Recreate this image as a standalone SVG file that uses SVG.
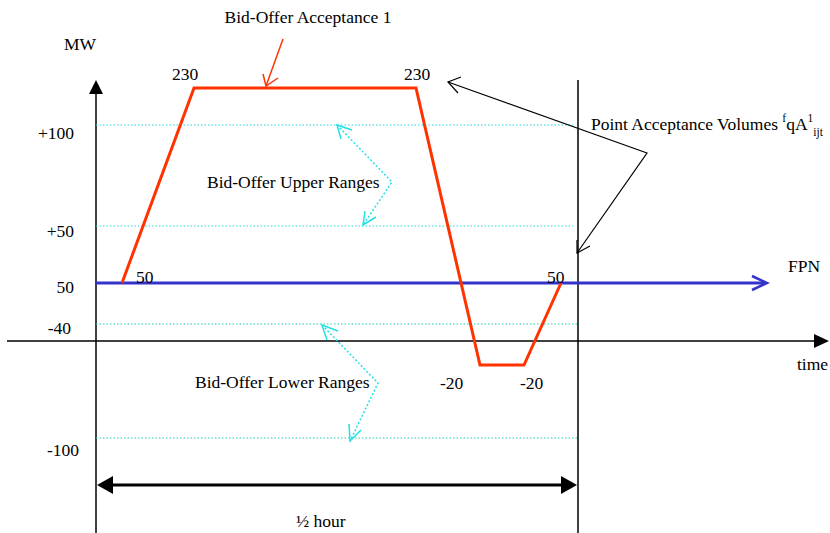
<svg xmlns="http://www.w3.org/2000/svg" width="830" height="533" viewBox="0 0 830 533">
<style>
text{font-family:"Liberation Serif","Times New Roman",serif;font-size:17.5px;fill:#000}
.sm{font-size:11.5px}
.ax{stroke:#000;stroke-width:1.5;fill:none}
.dot{stroke:#22d8d8;stroke-width:1.2;stroke-dasharray:1.5 2;fill:none}
.dotg{stroke:#1fd0b0;stroke-width:1.2;stroke-dasharray:1.5 2;fill:none}
.cy{stroke:#22e0e8;stroke-width:1.5;stroke-dasharray:2 2;fill:none}
.cyh{stroke:#22e0e8;stroke-width:1.5;fill:none}
.blk{stroke:#000;stroke-width:1.2;fill:none}
.red{stroke:#ff3300;stroke-width:3;fill:none;stroke-linejoin:miter}
</style>
<rect width="830" height="533" fill="#fff"/>
<g id="connectors">
<line class="ax" x1="96" y1="92" x2="96" y2="533"/>
<polygon points="96,80 89,94 103,94" fill="#000"/>
<line class="ax" x1="7" y1="341" x2="815" y2="341"/>
<polygon points="829,341 814,334 814,348" fill="#000"/>
<line class="ax" x1="578" y1="80" x2="578" y2="533"/>
<line class="dot" x1="96" y1="125" x2="573" y2="125"/>
<line class="dot" x1="96" y1="226" x2="573" y2="226"/>
<line class="dotg" x1="96" y1="324" x2="578" y2="324"/>
<line class="dotg" x1="96" y1="438" x2="578" y2="438"/>
<line x1="96" y1="283" x2="766" y2="283" stroke="#3333cc" stroke-width="3"/>
<polyline points="752,276 767,283 752,290" fill="none" stroke="#3333cc" stroke-width="2.5"/>
<polyline class="red" points="122,283 194,88 416,88 480,365 524,365 561,283"/>
<line x1="283" y1="39" x2="266" y2="86" stroke="#ff3300" stroke-width="1.5"/>
<polyline points="263,74 266,86 278,78" fill="none" stroke="#ff3300" stroke-width="1.5"/>
<polyline class="blk" points="448,82 647,153 577,253"/>
<polyline class="blk" points="461,77 448,82 458,93"/>
<polyline class="blk" points="577,240 577,253 590,246"/>
<polyline class="cy" points="337,125 392,182 363,225"/>
<polyline class="cyh" points="341,139 337,125 352,130"/>
<polyline class="cyh" points="365,211 363,225 376,217"/>
<polyline class="cy" points="322,325 378,383 350,441"/>
<polyline class="cyh" points="327,340 322,325 338,331"/>
<polyline class="cyh" points="349,424 350,441 361,430"/>
<line x1="110" y1="485" x2="564" y2="485" stroke="#000" stroke-width="3"/>
<polygon points="97,485 113,476 113,494" fill="#000"/>
<polygon points="577,485 561,476 561,494" fill="#000"/>
</g>
<g id="labels">
<text x="64" y="50">MW</text>
<text x="74" y="139" text-anchor="end">+100</text>
<text x="74" y="237" text-anchor="end">+50</text>
<text x="74" y="293" text-anchor="end">50</text>
<text x="71" y="334" text-anchor="end">-40</text>
<text x="79" y="456" text-anchor="end">-100</text>
<text x="136" y="283">50</text>
<text x="172" y="80">230</text>
<text x="404" y="80">230</text>
<text x="547" y="283">50</text>
<text x="440" y="389">-20</text>
<text x="520" y="389">-20</text>
<text x="788" y="272">FPN</text>
<text x="797" y="370">time</text>
<text x="308" y="23" text-anchor="middle">Bid-Offer Acceptance 1</text>
<text x="207" y="188">Bid-Offer Upper Ranges</text>
<text x="195" y="388">Bid-Offer Lower Ranges</text>
<text x="591" y="130">Point Acceptance Volumes <tspan class="sm" dy="-8">f</tspan><tspan dy="8">qA</tspan><tspan class="sm" dy="-8">1</tspan><tspan class="sm" dy="14">ijt</tspan></text>
<text x="296" y="527">½ hour</text>
</g>
</svg>
